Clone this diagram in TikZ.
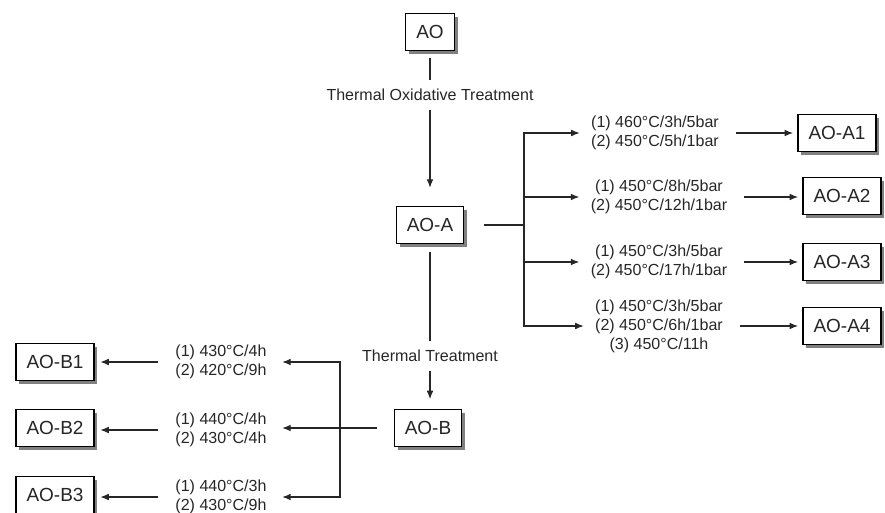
\documentclass[tikz,border=0pt]{standalone}
\usepackage{fontspec}
\setmainfont{Liberation Sans}
\usetikzlibrary{arrows.meta,shadows}
\tikzset{
  box/.style={draw,line width=1pt,fill=white,text=black!85,
    font=\fontsize{13.5}{16}\selectfont,minimum height=26pt,inner xsep=7.5pt,
    drop shadow={shadow xshift=2.4pt,shadow yshift=-2.4pt,fill=black!50,opacity=1}},
  cond/.style={align=center,inner sep=0pt,text=black!85,
    font=\fontsize{11.4}{13.5}\selectfont},
  conn/.style={line width=0.8pt,draw=black!85},
  arr/.style={conn,-{Latex[length=6pt,width=4.8pt]}}
}
\begin{document}
\begin{tikzpicture}[x=0.025cm,y=-0.025cm]
\useasboundingbox (0,0) rectangle (885,512);
\node[box] (ao) at (430,32) {AO};
\node[cond] (oxlab) at (430,95) {Thermal Oxidative Treatment};
\node[box] (aoa) at (430,225) {AO-A};
\node[cond] (thlab) at (430,356) {Thermal Treatment};
\node[box] (aob) at (428,428) {AO-B};
\draw[conn,shorten <=5pt,shorten >=6pt] (ao.south) -- (oxlab.north);
\draw[arr,shorten <=6pt,shorten >=13pt] (oxlab.south) -- (aoa.north);
\draw[conn,shorten <=6pt,shorten >=6pt] (aoa.south) -- (thlab.north);
\draw[arr,shorten <=6pt,shorten >=7pt] (thlab.south) -- (thlab.south |- aob.north);
% oxidative branch
\node[cond] (la1) at (655,133) {(1) 460°C/3h/5bar\\(2) 450°C/5h/1bar};
\node[cond] (la2) at (659,197) {(1) 450°C/8h/5bar\\(2) 450°C/12h/1bar};
\node[cond] (la3) at (659,262) {(1) 450°C/3h/5bar\\(2) 450°C/17h/1bar};
\node[cond] (la4) at (659,326) {(1) 450°C/3h/5bar\\(2) 450°C/6h/1bar\\(3) 450°C/11h};
\node[box] (aoa1) at (837,133) {AO-A1};
\node[box] (aoa2) at (842,196) {AO-A2};
\node[box] (aoa3) at (842,262) {AO-A3};
\node[box] (aoa4) at (842,326) {AO-A4};
\coordinate (asplit) at (524,225);
\draw[conn,shorten <=14pt] (aoa.east) -- (asplit);
\foreach \i in {1,2,3,4}{
  \draw[arr,shorten >=8pt] (asplit) |- (la\i.west);
  \draw[arr,shorten <=12pt,shorten >=3pt] (la\i.east) -- (aoa\i.west |- la\i.east);
}
% thermal branch
\node[cond] (lb1) at (221,362) {(1) 430°C/4h\\(2) 420°C/9h};
\node[cond] (lb2) at (221,430) {(1) 440°C/4h\\(2) 430°C/4h};
\node[cond] (lb3) at (221,497) {(1) 440°C/3h\\(2) 430°C/9h};
\node[box] (aob1) at (55,362) {AO-B1};
\node[box] (aob2) at (55,428) {AO-B2};
\node[box] (aob3) at (55,495) {AO-B3};
\coordinate (bsplit) at (340,428);
\draw[arr,shorten <=12pt,shorten >=11pt] (aob.west) -- (lb2.east |- aob.west);
\draw[arr,shorten >=11pt] (bsplit) |- (lb1.east);
\draw[arr,shorten >=11pt] (bsplit) |- (lb3.east);
\foreach \i in {1,2,3}
  \draw[arr,shorten <=12pt,shorten >=4pt] (lb\i.west) -- (aob\i.east |- lb\i.west);
\end{tikzpicture}
\end{document}
